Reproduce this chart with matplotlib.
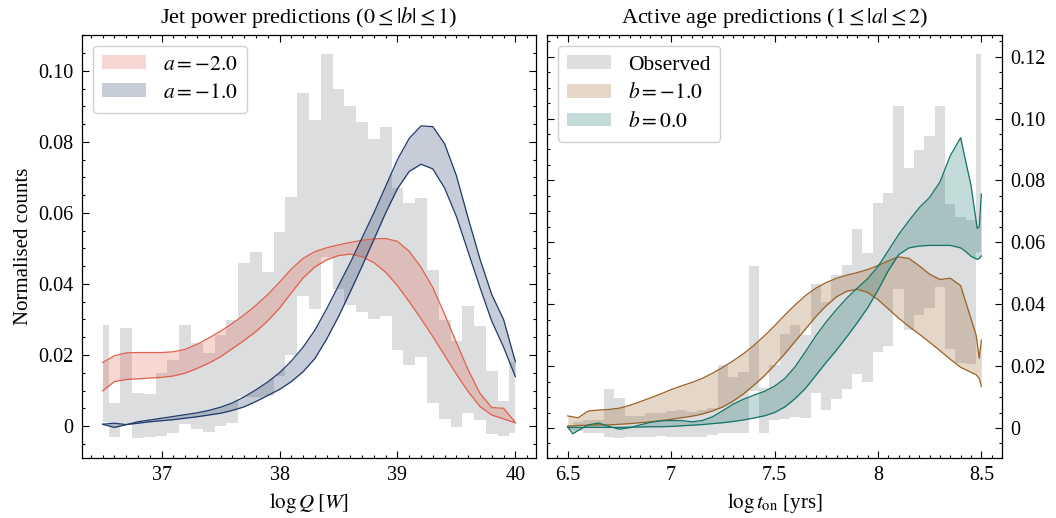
import numpy as np
import matplotlib
matplotlib.use("Agg")
from matplotlib import pyplot as plt
from matplotlib.ticker import MultipleLocator, FuncFormatter

plt.rcParams['font.family'] = 'serif'
plt.rcParams['font.serif'] = ['Liberation Serif', 'DejaVu Serif']
plt.rcParams['mathtext.fontset'] = 'stix'
plt.rcParams['font.size'] = 15

# ---------------- left panel: jet power ----------------
q_x = [36.5, 36.6, 36.7, 36.8, 36.9, 37.0, 37.1, 37.2, 37.3, 37.4, 37.5, 37.6,
       37.7, 37.8, 37.9, 38.0, 38.1, 38.2, 38.3, 38.4, 38.5, 38.6, 38.7, 38.8,
       38.9, 39.0, 39.1, 39.2, 39.3, 39.4, 39.5, 39.6, 39.7, 39.8, 39.9, 40.0]

q_obs_hi = [0.0285, 0.0066, 0.0275, 0.0094, 0.0089, 0.0150, 0.0186, 0.0285, 0.0233,
            0.0206, 0.0256, 0.0299, 0.0458, 0.0491, 0.0435, 0.0547, 0.0646, 0.0939,
            0.0862, 0.1048, 0.0950, 0.0901, 0.0855, 0.0807, 0.0843, 0.0670, 0.0627,
            0.0643, 0.0438, 0.0299, 0.0239, 0.0338, 0.0282, 0.0155, 0.0070, 0.0181]
q_obs_lo = [0.0012, -0.0030, 0.0006, -0.0033, -0.0030, -0.0027, -0.0019, 0.0006,
            -0.0007, -0.0018, 0.0001, 0.0008, 0.0083, 0.0083, 0.0085, 0.0140, 0.0200,
            0.0367, 0.0329, 0.0475, 0.0385, 0.0341, 0.0322, 0.0300, 0.0310, 0.0214,
            0.0172, 0.0195, 0.0066, 0.0019, -0.0002, 0.0036, 0.0017, -0.0023, -0.0028,
            -0.0019]

# a = -2.0
a2_hi = [0.0179, 0.0198, 0.0206, 0.0207, 0.0207, 0.0207, 0.0209, 0.0216, 0.0230,
         0.0248, 0.0267, 0.0289, 0.0313, 0.0340, 0.0370, 0.0405, 0.0442, 0.0472,
         0.0491, 0.0502, 0.0510, 0.0517, 0.0523, 0.0527, 0.0528, 0.0520, 0.0492,
         0.0447, 0.0390, 0.0315, 0.0235, 0.0158, 0.0092, 0.0052, 0.0050, 0.0010]
a2_lo = [0.0099, 0.0125, 0.0131, 0.0133, 0.0135, 0.0137, 0.0141, 0.0149, 0.0162,
         0.0177, 0.0195, 0.0218, 0.0241, 0.0266, 0.0296, 0.0332, 0.0375, 0.0417,
         0.0448, 0.0468, 0.0480, 0.0484, 0.0477, 0.0460, 0.0433, 0.0395, 0.0350,
         0.0302, 0.0252, 0.0199, 0.0146, 0.0097, 0.0055, 0.0031, 0.0020, 0.0009]

# a = -1.0
a1_hi = [0.0005, -0.0004, 0.0004, 0.0012, 0.0017, 0.0022, 0.0027, 0.0032, 0.0037,
         0.0044, 0.0053, 0.0065, 0.0082, 0.0102, 0.0124, 0.0150, 0.0183, 0.0222,
         0.0270, 0.0330, 0.0395, 0.0460, 0.0530, 0.0600, 0.0675, 0.0750, 0.0810,
         0.0845, 0.0843, 0.0795, 0.0705, 0.0585, 0.0470, 0.0370, 0.0300, 0.0181]
a1_lo = [0.0005, 0.0008, 0.0004, 0.0008, 0.0012, 0.0015, 0.0018, 0.0022, 0.0026,
         0.0031, 0.0036, 0.0044, 0.0054, 0.0069, 0.0086, 0.0103, 0.0125, 0.0153,
         0.0190, 0.0245, 0.0308, 0.0378, 0.0450, 0.0525, 0.0600, 0.0668, 0.0717,
         0.0737, 0.0724, 0.0670, 0.0590, 0.0490, 0.0390, 0.0295, 0.0222, 0.0139]

# ---------------- right panel: active age ----------------
t_x = [6.5, 6.55, 6.6, 6.65, 6.7, 6.75, 6.8, 6.85, 6.9, 6.95, 7.0, 7.05, 7.1,
       7.15, 7.2, 7.25, 7.3, 7.35, 7.4, 7.45, 7.5, 7.55, 7.6, 7.65, 7.7, 7.75,
       7.8, 7.85, 7.9, 7.95, 8.0, 8.05, 8.1, 8.15, 8.2, 8.25, 8.3, 8.35, 8.4,
       8.45, 8.5]

t_obs_hi = [0.0010, 0.0020, 0.0025, 0.0025, 0.0125, 0.0098, 0.0039, 0.0039, 0.0047,
            0.0050, 0.0055, 0.0058, 0.0053, 0.0058, 0.0064, 0.0202, 0.0166, 0.0182,
            0.0524, 0.0128, 0.0204, 0.0304, 0.0333, 0.0301, 0.0465, 0.0408, 0.0495,
            0.0527, 0.0642, 0.0567, 0.0726, 0.0758, 0.1039, 0.0840, 0.0898, 0.0942,
            0.1039, 0.0724, 0.0683, 0.0672, 0.1209]
t_obs_lo = [-0.0005, -0.0010, -0.0017, -0.0017, -0.0030, -0.0033, -0.0030, -0.0028,
            -0.0028, -0.0026, -0.0028, -0.0030, -0.0028, -0.0030, -0.0023, -0.0017,
            -0.0017, -0.0017, 0.0120, -0.0015, 0.0026, 0.0028, 0.0037, 0.0031, 0.0112,
            0.0058, 0.0093, 0.0125, 0.0175, 0.0148, 0.0245, 0.0265, 0.0448, 0.0317,
            0.0365, 0.0387, 0.0457, 0.0254, 0.0211, 0.0206, 0.0570]

# b = -1.0
bm_x = t_x[:-2] + [8.475, 8.49, 8.5]
bm_hi = [0.0039, 0.0033, 0.0055, 0.0058, 0.0060, 0.0064, 0.0073, 0.0085, 0.0097,
         0.0110, 0.0124, 0.0136, 0.0147, 0.0160, 0.0177, 0.0196, 0.0217, 0.0240,
         0.0267, 0.0297, 0.0330, 0.0365, 0.0398, 0.0428, 0.0452, 0.0470, 0.0484,
         0.0494, 0.0502, 0.0512, 0.0525, 0.0540, 0.0553, 0.0548, 0.0524, 0.0497,
         0.0480, 0.0484, 0.0460, 0.0300, 0.0225, 0.0284]
bm_lo = [0.0006, 0.0008, 0.0009, 0.0010, 0.0010, 0.0012, 0.0014, 0.0017, 0.0020,
         0.0024, 0.0028, 0.0033, 0.0038, 0.0045, 0.0055, 0.0068, 0.0087, 0.0110,
         0.0138, 0.0168, 0.0203, 0.0240, 0.0280, 0.0320, 0.0360, 0.0395, 0.0424,
         0.0442, 0.0448, 0.0438, 0.0415, 0.0385, 0.0355, 0.0328, 0.0303, 0.0277,
         0.0250, 0.0222, 0.0196, 0.0172, 0.0160, 0.0134]

# b = 0.0
b0_x = [6.5, 6.525, 6.55, 6.6, 6.65, 6.7, 6.75, 6.8, 6.85, 6.9, 6.95, 7.0, 7.05,
        7.1, 7.15, 7.2, 7.25, 7.3, 7.35, 7.4, 7.45, 7.5, 7.55, 7.6, 7.65, 7.7,
        7.75, 7.8, 7.85, 7.9, 7.95, 8.0, 8.05, 8.1, 8.15, 8.2, 8.25, 8.3, 8.35,
        8.4, 8.425, 8.45, 8.465, 8.48, 8.49, 8.5]
b0_hi = [0.0004, -0.0019, -0.0008, 0.0010, 0.0016, 0.0005, -0.0004, 0.0001, 0.0010,
         0.0018, 0.0023, 0.0024, 0.0024, 0.0020, 0.0024, 0.0036, 0.0056, 0.0077,
         0.0093, 0.0106, 0.0118, 0.0135, 0.0160, 0.0198, 0.0247, 0.0298, 0.0343,
         0.0383, 0.0420, 0.0452, 0.0482, 0.0522, 0.0573, 0.0625, 0.0670, 0.0712,
         0.0745, 0.0795, 0.0880, 0.0938, 0.0860, 0.0785, 0.0715, 0.0645, 0.0650,
         0.0756]
b0_lo = [0.0002, 0.0002, 0.0002, 0.0002, 0.0002, 0.0002, 0.0002, 0.0003, 0.0003,
         0.0004, 0.0004, 0.0005, 0.0007, 0.0009, 0.0011, 0.0014, 0.0017, 0.0021,
         0.0026, 0.0032, 0.0039, 0.0050, 0.0068, 0.0095, 0.0128, 0.0170, 0.0212,
         0.0252, 0.0295, 0.0340, 0.0388, 0.0445, 0.0508, 0.0560, 0.0582, 0.0588,
         0.0590, 0.0590, 0.0590, 0.0582, 0.0570, 0.0555, 0.0550, 0.0545, 0.0548,
         0.0556]

obs_col = '#dcdddf'
red = '#e0604c'
blue = '#1d3a6b'
brown = '#9a6125'
teal = '#127368'


def band(ax, x, lo, hi, col, label):
    ax.fill_between(x, lo, hi, color=col, alpha=0.25, lw=0, label=label, zorder=2)
    ax.plot(x, lo, color=col, lw=0.9, zorder=3)
    ax.plot(x, hi, color=col, lw=0.9, zorder=3)


def style(ax):
    ax.tick_params(which='both', direction='in', top=True, right=True,
                   labelsize=14.5, pad=6)
    ax.tick_params(which='major', length=5, width=0.8)
    ax.tick_params(which='minor', length=2.5, width=0.8)
    for s in ax.spines.values():
        s.set_linewidth(0.9)


def legend(ax):
    ax.legend(loc='upper left', fontsize=15.5, handlelength=2.0, handleheight=0.6,
              handletextpad=0.8, labelspacing=0.4, borderaxespad=0.5,
              borderpad=0.45, fancybox=True, edgecolor='0.82', framealpha=1)


yfmt = FuncFormatter(lambda v, p: '0' if abs(v) < 1e-9 else '%.2f' % v)
xfmt = FuncFormatter(lambda v, p: '%g' % v)

fig = plt.figure(figsize=(10.56, 5.18), dpi=100)
ax1 = fig.add_axes([82 / 1056, 60 / 518, 454 / 1056, 423 / 518])
ax2 = fig.add_axes([547 / 1056, 60 / 518, 455 / 1056, 423 / 518])

ax1.fill_between(q_x, q_obs_lo, q_obs_hi, step='mid', color=obs_col, lw=0, zorder=1)
band(ax1, q_x, a2_lo, a2_hi, red, r'$a = -2.0$')
band(ax1, q_x, a1_lo, a1_hi, blue, r'$a = -1.0$')
ax1.set_xlim(36.325, 40.175)
ax1.set_ylim(-0.009, 0.1101)
ax1.xaxis.set_major_locator(MultipleLocator(1))
ax1.xaxis.set_minor_locator(MultipleLocator(0.1))
ax1.yaxis.set_major_locator(MultipleLocator(0.02))
ax1.yaxis.set_minor_locator(MultipleLocator(0.005))
ax1.xaxis.set_major_formatter(xfmt)
ax1.yaxis.set_major_formatter(yfmt)
ax1.set_xlabel(r'$\log Q\;[W]$')
ax1.set_ylabel('Normalised counts')
ax1.set_title(r'Jet power predictions ($0 \leq |b| \leq 1$)', fontsize=16, pad=9)
style(ax1)
legend(ax1)

ax2.fill_between(t_x, t_obs_lo, t_obs_hi, step='mid', color=obs_col, lw=0, zorder=1,
                 label='Observed')
band(ax2, bm_x, bm_lo, bm_hi, brown, r'$b = -1.0$')
band(ax2, b0_x, b0_lo, b0_hi, teal, r'$b = 0.0$')
ax2.set_xlim(6.4, 8.6)
ax2.set_ylim(-0.0097, 0.127)
ax2.xaxis.set_major_locator(MultipleLocator(0.5))
ax2.xaxis.set_minor_locator(MultipleLocator(0.05))
ax2.yaxis.set_major_locator(MultipleLocator(0.02))
ax2.yaxis.set_minor_locator(MultipleLocator(0.005))
ax2.xaxis.set_major_formatter(xfmt)
ax2.yaxis.set_major_formatter(yfmt)
ax2.set_xlabel(r'$\log t_{\mathrm{on}}$ [yrs]')
ax2.set_title(r'Active age predictions ($1 \leq |a| \leq 2$)', fontsize=16, pad=9)
style(ax2)
ax2.tick_params(which='both', labelleft=False, labelright=True)
legend(ax2)

fig.savefig('out.png', dpi=100)
